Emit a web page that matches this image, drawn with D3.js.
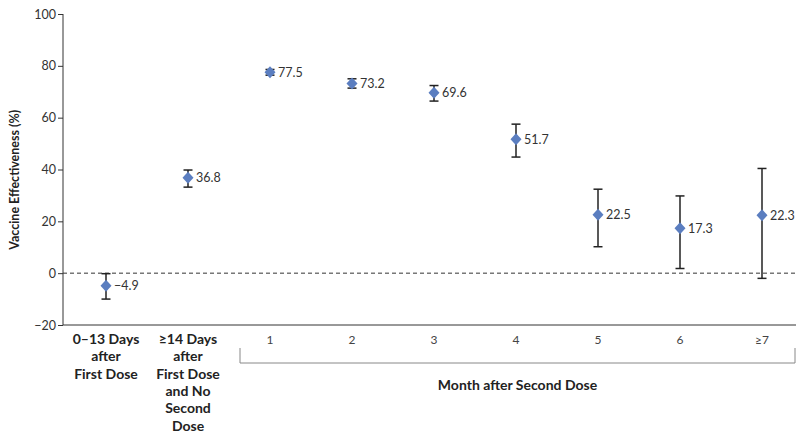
<html>
  <head>
    <meta charset='utf-8'>
    <script src='https://d3js.org/d3.v7.min.js'></script>
    <style>
      body { margin: 0; background: #fff; }
      text { font-family: Lato, 'Open Sans', sans-serif; fill: #222; }
    </style>
  </head>
  <body>
    <div id='chart'></div>
    <script>
        const categories = ['0–13 Days|after|First Dose', '≥14 Days|after|First Dose|and No|Second|Dose',
                            '1', '2', '3', '4', '5', '6', '≥7'];
        const effectiveness = [-4.9, 36.8, 77.5, 73.2, 69.6, 51.7, 22.5, 17.3, 22.3];
        const ciLow  = [-10.0, 33.2, 76.4, 71.4, 66.4, 44.8, 10.2, 1.8, -2.0];
        const ciHigh = [-0.2, 39.8, 78.6, 75.0, 72.4, 57.5, 32.4, 29.8, 40.4];
        const yTicks = [-20, 0, 20, 40, 60, 80, 100];

        const width = 798, height = 433;
        const margin = { left: 63, right: 3, top: 14, bottom: 108 };

        const svg = d3.select('#chart').append('svg')
                      .attr('width', width)
                      .attr('height', height);

        const x = d3.scalePoint()
                    .domain(d3.range(categories.length))
                    .range([106, 762]);
        const y = d3.scaleLinear()
                    .domain([-20, 100])
                    .range([height - margin.bottom, margin.top]);

        // y axis
        const yAxis = svg.append('g')
                         .attr('transform', `translate(${margin.left},0)`)
                         .call(d3.axisLeft(y).tickValues(yTicks).tickSize(5).tickPadding(2)
                                 .tickFormat(d => d < 0 ? '−' + Math.abs(d) : d));
        yAxis.selectAll('text').style('font-size', '12.5px').style('fill', '#333');
        yAxis.selectAll('line, path').attr('stroke', '#333');
        yAxis.select('.domain').attr('d', `M0,${y(100)}V${y(-20)}`);

        // x axis line
        svg.append('line')
           .attr('x1', margin.left).attr('x2', 796)
           .attr('y1', y(-20)).attr('y2', y(-20))
           .attr('stroke', '#333');

        // zero reference
        svg.append('line')
           .attr('x1', margin.left).attr('x2', 796)
           .attr('y1', y(0)).attr('y2', y(0))
           .attr('stroke', '#333')
           .attr('stroke-dasharray', '4,3');

        svg.append('text')
           .attr('transform', `translate(19,${y(36)}) rotate(-90)`)
           .attr('text-anchor', 'middle')
           .style('font-size', '12.5px')
           .style('font-weight', 'bold')
           .text('Vaccine Effectiveness (%)');

        // category labels
        categories.forEach((c, i) => {
            const lines = c.split('|');
            const t = svg.append('text')
                         .attr('text-anchor', 'middle')
                         .attr('x', x(i))
                         .attr('y', 344)
                         .style('font-size', lines.length > 1 ? '14px' : '12px')
                         .style('font-weight', lines.length > 1 ? 'bold' : 'normal')
                         .style('fill', lines.length > 1 ? '#222' : '#444');
            lines.forEach((l, j) => {
                t.append('tspan').attr('x', x(i)).attr('dy', j === 0 ? 0 : 17.3).text(l);
            });
        });

        // bracket for month group
        const bx0 = 240, bx1 = 795, by = 363;
        svg.append('path')
           .attr('d', `M${bx0},${by - 15}V${by}H${bx1}V${by - 15}`)
           .attr('fill', 'none')
           .attr('stroke', '#888');
        svg.append('text')
           .attr('x', (bx0 + bx1) / 2)
           .attr('y', 390)
           .attr('text-anchor', 'middle')
           .style('font-size', '14px')
           .style('font-weight', 'bold')
           .text('Month after Second Dose');

        // error bars
        const bars = svg.append('g').attr('stroke', '#222').attr('stroke-width', 1.5);
        effectiveness.forEach((v, i) => {
            const cx = x(i);
            bars.append('line').attr('x1', cx).attr('x2', cx)
                .attr('y1', y(ciLow[i])).attr('y2', y(ciHigh[i]));
            [ciLow[i], ciHigh[i]].forEach(e => {
                bars.append('line').attr('x1', cx - 4.5).attr('x2', cx + 4.5)
                    .attr('y1', y(e)).attr('y2', y(e));
            });
        });

        // markers
        svg.append('g').selectAll('path')
           .data(effectiveness)
           .join('path')
           .attr('transform', (d, i) => `translate(${x(i)},${y(d)})`)
           .attr('d', 'M0,-6L5.5,0L0,6L-5.5,0Z')
           .attr('fill', '#5b7ec0');

        svg.append('g').selectAll('text')
           .data(effectiveness)
           .join('text')
           .attr('x', (d, i) => x(i) + 8)
           .attr('y', d => y(d) + 4.5)
           .style('font-size', '12.5px')
           .style('fill', '#333')
           .text(d => d < 0 ? '−' + Math.abs(d) : d.toFixed(1));
    </script>
  </body>
</html>
